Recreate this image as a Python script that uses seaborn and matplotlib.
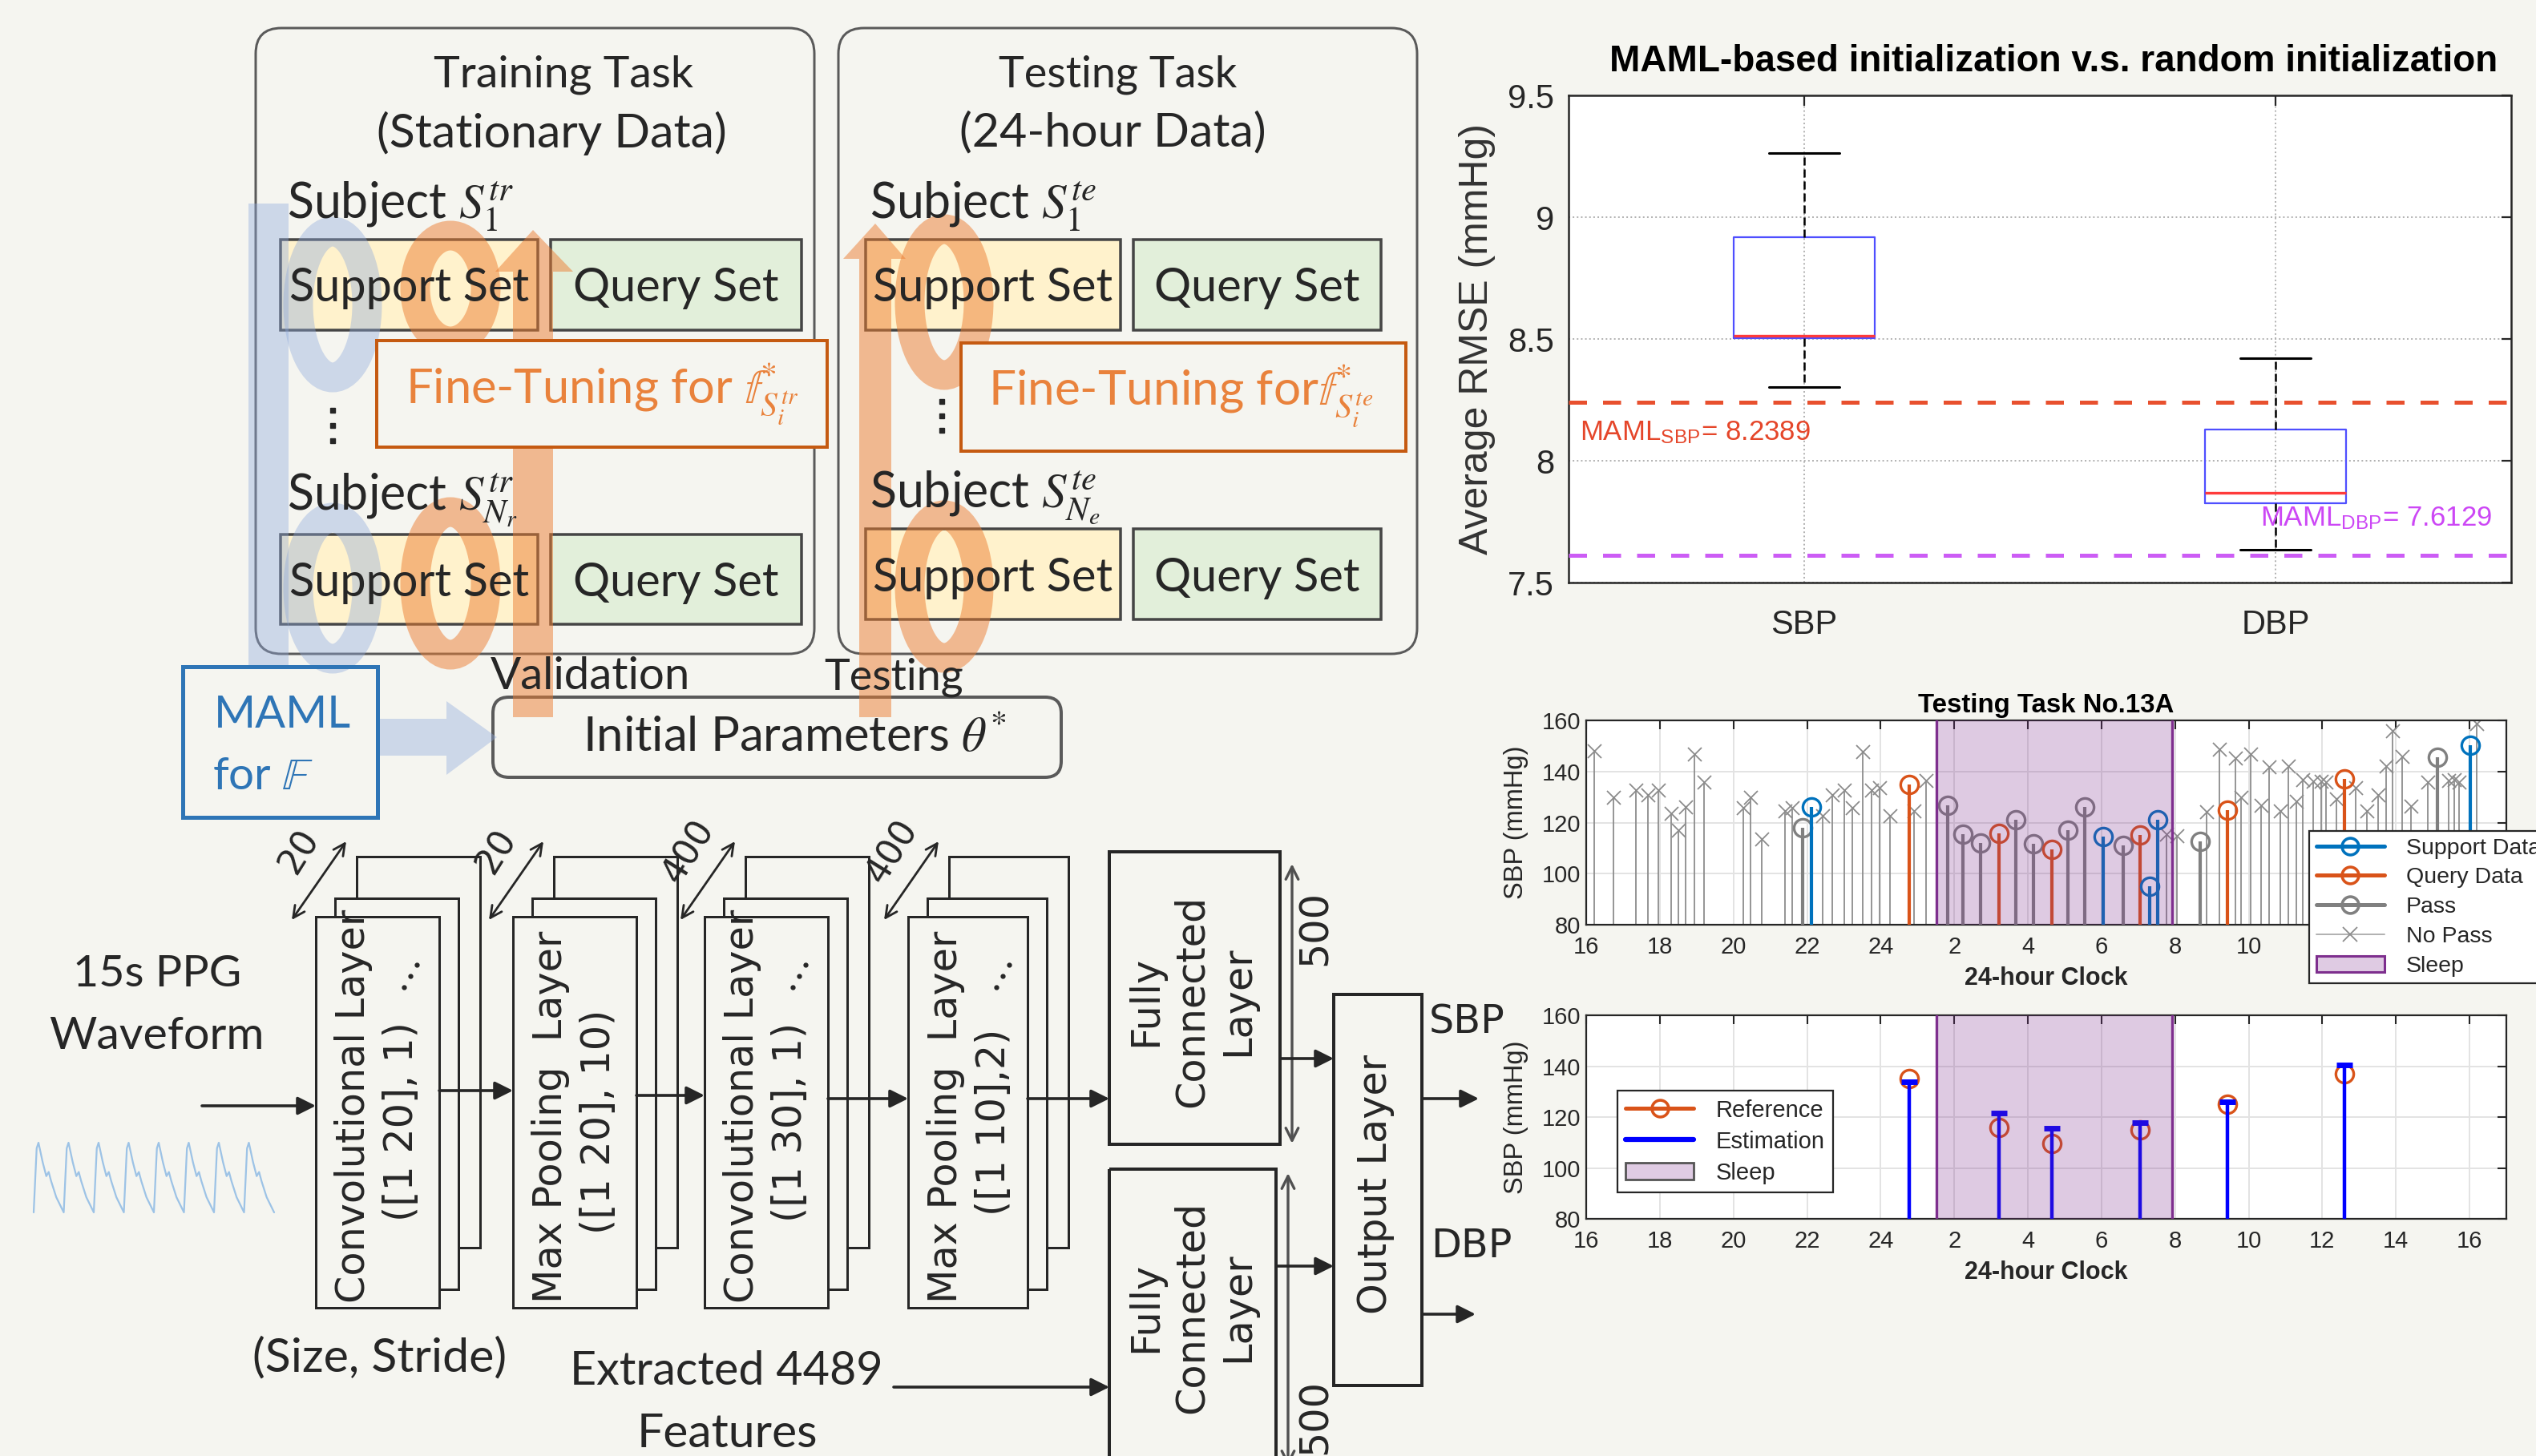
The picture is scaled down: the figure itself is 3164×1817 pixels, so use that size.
import numpy as np
import matplotlib
matplotlib.use("Agg")
import matplotlib.pyplot as plt
import seaborn as sns
from matplotlib.patches import Rectangle, FancyBboxPatch, Ellipse, Polygon, Patch
from matplotlib.lines import Line2D
from matplotlib.legend_handler import HandlerLine2D
from matplotlib.textpath import TextPath
from matplotlib.font_manager import FontProperties

# ----------------------------------------------------------------- data
# RMSE summary of the random-initialisation runs (mmHg)
box_groups = ["SBP", "DBP"]
box_whislo = [8.304, 7.636]
box_q1 = [8.502, 7.827]
box_med = [8.514, 7.867]
box_q3 = [8.918, 8.127]
box_whishi = [9.262, 8.421]
maml_sbp = 8.2389
maml_dbp = 7.6129
rmse_ticks = [7.5, 8.0, 8.5, 9.0, 9.5]
rmse_tick_labels = ["7.5", "8", "8.5", "9", "9.5"]

# Testing task No.13A (time in hours from midnight of the first day)
support_t = [22.11, 30.04, 31.31, 31.52, 40.01]
support_v = [126.0, 114.6, 95.1, 121.0, 150.2]
query_t = [24.78, 27.21, 28.65, 31.04, 33.43, 36.60]
query_v = [135.0, 115.8, 109.5, 115.0, 124.9, 137.0]
estimate_v = [133.8, 121.6, 115.6, 117.9, 126.1, 140.6]
pass_t = [21.87, 25.83, 26.23, 26.71, 27.68, 28.16, 29.09, 29.55, 30.59, 32.68, 39.13]
pass_v = [117.9, 126.8, 115.6, 112.1, 121.0, 111.8, 117.1, 126.0, 111.1, 112.5, 145.7]
nopass_t = [16.22, 16.73, 17.35, 17.68, 17.96, 18.30, 18.51, 18.71, 18.94, 19.20,
            20.27, 20.47, 20.76, 21.39, 21.60, 22.42, 22.69, 23.01, 23.22, 23.51,
            23.76, 23.96, 24.26, 24.90, 25.24, 31.77, 32.05, 32.86, 33.20, 33.64,
            33.80, 34.05, 34.34, 34.56, 34.85, 35.07, 35.29, 35.47, 35.76, 35.96,
            36.09, 36.38, 36.91, 37.20, 37.52, 37.74, 37.91, 38.16, 38.41, 38.87,
            39.43, 39.58, 39.72, 40.20]
nopass_v = [148.1, 129.9, 132.8, 130.7, 132.8, 123.7, 116.9, 126.0, 146.9, 135.7,
            125.8, 129.9, 113.7, 124.7, 125.8, 122.6, 130.7, 132.8, 125.8, 147.7,
            132.8, 133.6, 122.6, 124.7, 136.5, 115.3, 114.8, 124.2, 148.8, 145.1,
            129.9, 146.7, 126.8, 141.8, 124.7, 142.0, 128.2, 136.8, 136.2, 136.2,
            135.9, 129.4, 133.6, 124.7, 130.7, 142.0, 155.9, 146.0, 126.5, 135.7,
            136.5, 136.8, 135.7, 158.7]
sleep_start, sleep_end = 25.52, 31.92
clock_ticks = [16, 18, 20, 22, 24, 26, 28, 30, 32, 34, 36, 38, 40]
clock_labels = ["16", "18", "20", "22", "24", "2", "4", "6", "8", "10", "12", "14", "16"]
# the legend of the upper panel sits over its last three clock labels
clock_labels_top = ["16", "18", "20", "22", "24", "2", "4", "6", "8", "10", "", "", ""]
sbp_ticks = [80, 100, 120, 140, 160]

# CNN stages
layer_titles = ["Convolutional Layer", "Max Pooling  Layer", "Convolutional Layer", "Max Pooling  Layer"]
layer_params = ["([1 20], 1)", "([1 20], 10)", "([1 30], 1)", "([1 10],2)"]
layer_sizes = ["20", "20", "400", "400"]

# one beat of the PPG sketch (normalised), repeated along the trace
ppg_cycle_x = [0.00, 0.10, 0.16, 0.30, 0.42, 0.50, 0.58, 0.75, 1.00]
ppg_cycle_y = [0.00, 0.92, 1.00, 0.72, 0.52, 0.58, 0.45, 0.22, 0.00]
ppg_beats = 8

# ----------------------------------------------------------------- style
sns.set_theme(style="white")
plt.rcParams["font.family"] = ["Liberation Sans", "DejaVu Sans"]
plt.rcParams["mathtext.fontset"] = "stix"
plt.rcParams["axes.unicode_minus"] = False

W, H = 3164, 1817
PX = 0.72                      # points per pixel at dpi 100
BG = "#F5F5F0"
INK = "#262626"
C_SUP = "#0072BD"
C_QRY = "#D95319"
C_PASS = "#808080"
C_NOP = "#8C8C8C"
C_SLEEP = "#7E2F8E"
SLEEP_FILL = (0.874, 0.797, 0.890)
DIAG = ["Lato", "DejaVu Sans"]
VERD = ["DejaVu Sans"]

fig = plt.figure(figsize=(W / 100, H / 100), dpi=100)
fig.patch.set_facecolor(BG)


def ax_rect(x0, y0, x1, y1):
    return [x0 / W, 1 - y1 / H, (x1 - x0) / W, (y1 - y0) / H]


def fit(s, width_px, family=DIAG, weight="normal"):
    fp = FontProperties(family=family, weight=weight, size=100)
    ext = TextPath((0, 0), s, size=100, prop=fp).get_extents()
    return 100 * width_px * PX / ext.width


# ================================================================= diagram
dax = fig.add_axes([0, 0, 1, 1])
dax.set_xlim(0, W)
dax.set_ylim(H, 0)
dax.axis("off")


def rect(x0, y0, x1, y1, ec=INK, fc="none", lw=3, z=2, r=0):
    if r:
        p = FancyBboxPatch((x0, y0), x1 - x0, y1 - y0,
                           boxstyle=f"round,pad=0,rounding_size={r}",
                           ec=ec, fc=fc, lw=lw * PX, zorder=z)
    else:
        p = Rectangle((x0, y0), x1 - x0, y1 - y0, ec=ec, fc=fc, lw=lw * PX, zorder=z)
    dax.add_patch(p)


def put(x, y, s, width=None, size=None, family=DIAG, ha="center", va="center",
        color=INK, rot=0, weight="normal", z=6, **kw):
    if size is None:
        size = fit(s, width, family, weight)
    dax.text(x, y, s, fontsize=size, family=family, ha=ha, va=va, color=color,
             rotation=rot, rotation_mode="anchor", fontweight=weight, zorder=z, **kw)
    return size


def arrow(x0, y0, x1, y1, style="-|>", lw=2.6, color=INK, ms=34, z=5):
    dax.annotate("", xy=(x1, y1), xytext=(x0, y0),
                 arrowprops=dict(arrowstyle=style, lw=lw * PX * 1.4, color=color,
                                 mutation_scale=ms, shrinkA=0, shrinkB=0),
                 zorder=z)


# task panels
rect(319, 35, 1016, 816, ec="#5A5A5A", lw=3, r=32, z=1)
rect(1046, 35, 1768, 816, ec="#5A5A5A", lw=3, r=32, z=1)
put(703, 93, "Training Task", width=323)
put(688, 166, "(Stationary Data)", width=431)
put(1395, 93, "Testing Task", width=297)
put(1388, 166, "(24-hour Data)", width=378)

SUP_FC, QRY_FC, SET_EC = "#FFF2CC", "#E2EFDA", "#454545"
set_rows = [
    (350, 671, 687, 1000, 299, 412),
    (350, 671, 687, 1000, 667, 779),
    (1080, 1398, 1414, 1723, 299, 412),
    (1080, 1398, 1414, 1723, 660, 773),
]
sz_sup = fit("Support Set", 297)
for sx0, sx1, qx0, qx1, y0, y1 in set_rows:
    rect(sx0, y0, sx1, y1, ec=SET_EC, fc=SUP_FC, lw=3.5, z=2)
    rect(qx0, y0, qx1, y1, ec=SET_EC, fc=QRY_FC, lw=3.5, z=2)
    put((sx0 + sx1) / 2, (y0 + y1) / 2 + 21, "Support Set", size=sz_sup, va="baseline")
    put((qx0 + qx1) / 2, (y0 + y1) / 2 + 21, "Query Set", size=sz_sup, va="baseline")

sz_subj = fit(r"Subject $S_1^{tr}$", 279)
put(358, 273, r"Subject $S_1^{tr}$", size=sz_subj, ha="left", va="baseline")
put(358, 636, r"Subject $S_{N_r}^{tr}$", size=sz_subj, ha="left", va="baseline")
put(1085, 273, r"Subject $S_1^{te}$", size=sz_subj, ha="left", va="baseline")
put(1085, 633, r"Subject $S_{N_e}^{te}$", size=sz_subj, ha="left", va="baseline")

# translucent loop arrows
ORG, BLU = "#ED7D31", "#8FAADC"
dax.add_patch(Polygon([(310, 832), (310, 254), (360, 254), (360, 832)],
                      closed=True, fc=BLU, ec="none", alpha=0.40, zorder=3))
for cx, cy, rx, ry in [(415, 380, 43, 91), (415, 734, 43, 88)]:
    dax.add_patch(Ellipse((cx, cy), 2 * rx, 2 * ry, fill=False, ec=BLU,
                          lw=37 * PX, alpha=0.40, zorder=3))
for x0, x1, hx0, hx1, hy, ax_, ay in [(640, 690, 618, 715, 339, 665, 287),
                                      (1072, 1112, 1052, 1130, 323, 1092, 279)]:
    dax.add_patch(Polygon([(x0, 895), (x0, hy), (hx0, hy), (ax_, ay), (hx1, hy),
                           (x1, hy), (x1, 895)], closed=True, fc=ORG, ec="none",
                          alpha=0.50, zorder=3))
for cx, cy, rx, ry in [(562, 360, 44, 66), (562, 728, 44, 89),
                       (1178, 377, 43, 91), (1178, 732, 43, 89)]:
    dax.add_patch(Ellipse((cx, cy), 2 * rx, 2 * ry, fill=False, ec=ORG,
                          lw=37 * PX, alpha=0.50, zorder=3))

# fine-tuning blocks
rect(470, 425, 1032, 558, ec="#C55A11", fc=BG, lw=4, z=4)
rect(1199, 428, 1754, 563, ec="#C55A11", fc=BG, lw=4, z=4)
put(506, 503, r"Fine-Tuning for $\mathbb{f}^{*}_{S_i^{tr}}$", width=483,
    ha="left", va="baseline", color="#E9823C")
put(1233, 505, r"Fine-Tuning for$\mathbb{f}^{*}_{S_i^{te}}$", width=473,
    ha="left", va="baseline", color="#E9823C")
dax.plot([415, 415, 415], [512, 531, 550], ls="none", marker="s", ms=4.5, color=INK, zorder=6)
dax.plot([1175, 1175, 1175], [501, 519, 537], ls="none", marker="s", ms=4.5, color=INK, zorder=6)

# MAML block and initial parameters
rect(228, 832, 471, 1020, ec="#2E75B6", lw=5, z=4)
put(267, 908, "MAML", width=165, ha="left", va="baseline", color="#2E75B6")
put(265, 985, r"for $\mathbb{F}$", width=123, ha="left", va="baseline", color="#2E75B6")
dax.add_patch(Polygon([(471, 897), (557, 897), (557, 875), (620, 920), (557, 967),
                       (557, 943), (471, 943)], closed=True, fc=BLU, ec="none",
                      alpha=0.40, zorder=3))
rect(615, 870, 1324, 970, ec="#5A5A5A", lw=4, r=20, z=2)
put(727, 937, r"Initial Parameters $\theta^{*}$", width=521, ha="left", va="baseline")
put(612, 860, "Validation", width=246, ha="left", va="baseline")
put(1028, 860, "Testing", width=172, ha="left", va="baseline")

# PPG input
put(196, 1231, "15s PPG", width=202, va="baseline")
put(195, 1309, "Waveform", width=264, va="baseline")
arrow(252, 1380, 394, 1380)
trace_x, trace_y = [], []
beat_w = (342 - 42) / ppg_beats
for b in range(ppg_beats):
    for cxv, cyv in zip(ppg_cycle_x, ppg_cycle_y):
        trace_x.append(42 + (b + cxv) * beat_w)
        trace_y.append(1513 - cyv * (1513 - 1426))
dax.plot(trace_x, trace_y, color="#9DC3E6", lw=1.6 * PX * 1.4, zorder=5)

# convolution / pooling stacks
layer_left = [394, 640, 879, 1133]
layer_w = [154, 154, 154, 149]
ftop, fbot = 1144, 1632
sz_layer = fit("Convolutional Layer", 488, VERD)
for i, (L, lw_) in enumerate(zip(layer_left, layer_w)):
    rect(L + 51, ftop - 75, L + 51 + lw_, fbot - 75, fc=BG, lw=3, z=2)
    rect(L + 24, ftop - 23, L + 24 + lw_, fbot - 23, fc=BG, lw=3, z=2.1)
    rect(L, ftop, L + lw_, fbot, fc=BG, lw=3, z=2.2)
    put(L + 47, fbot - 6, layer_titles[i], size=sz_layer, family=VERD, ha="left", rot=90)
    put(L + 107, 1400, layer_params[i], size=sz_layer, family=VERD, rot=90)
    arrow(L - 30, 1148, L + 38, 1050, style="<->", lw=2.0, ms=26)
    put(L - 20, 1062, layer_sizes[i], size=sz_layer * 0.9, family=VERD, rot=58)
for L in (layer_left[0], layer_left[2], layer_left[3]):
    dax.plot([L + 110, L + 118, L + 126], [1232, 1218, 1204], ls="none", marker="o",
             ms=3.5, color=INK, zorder=6)
arrow(548, 1361, 640, 1361)
arrow(794, 1367, 879, 1367)
arrow(1033, 1371, 1133, 1371)
arrow(1282, 1371, 1384, 1371)

# fully connected and output blocks
rect(1384, 1063, 1597, 1428, lw=4, z=2)
rect(1384, 1459, 1592, 1830, lw=4, z=2)
rect(1664, 1241, 1774, 1729, lw=4, z=2)
put(1487, 1249, "Fully\nConnected\nLayer", size=sz_layer, family=VERD, rot=90,
    linespacing=1.25, multialignment="center")
put(1487, 1631, "Fully\nConnected\nLayer", size=sz_layer, family=VERD, rot=90,
    linespacing=1.25, multialignment="center")
put(1716, 1478, "Output Layer", size=sz_layer, family=VERD, rot=90)
arrow(1612, 1427, 1612, 1078, style="<->", lw=2.4, color="#505050", ms=28)
arrow(1607, 1830, 1607, 1464, style="<->", lw=2.4, color="#505050", ms=28)
put(1641, 1158, "500", size=sz_layer, family=VERD, rot=90)
put(1641, 1768, "500", size=sz_layer, family=VERD, rot=90)
arrow(1597, 1321, 1664, 1321)
arrow(1592, 1580, 1664, 1580)
arrow(1774, 1371, 1845, 1371)
arrow(1774, 1640, 1841, 1640)
put(1830, 1276, "SBP", size=sz_layer, family=VERD)
put(1836, 1555, "DBP", size=sz_layer, family=VERD)
put(474, 1695, "(Size, Stride)", width=312)
put(906, 1711, "Extracted 4489", width=382)
put(907, 1789, "Features", width=218)
arrow(1115, 1731, 1384, 1731)

# ================================================================= RMSE boxes
bax = fig.add_axes(ax_rect(1957, 119, 3133, 727))
bax.set_facecolor("white")
stats = [dict(label=g, whislo=lo, q1=a, med=m, q3=b, whishi=hi)
         for g, lo, a, m, b, hi in zip(box_groups, box_whislo, box_q1, box_med, box_q3, box_whishi)]
bax.bxp(stats, positions=[1, 2], widths=0.3, showfliers=False,
        boxprops=dict(color="#4F4FFF", lw=1.6),
        medianprops=dict(color="#FF3B3B", lw=2.4),
        whiskerprops=dict(color="black", lw=1.8, ls=(0, (4, 2))),
        capprops=dict(color="black", lw=2.2))
bax.axhline(maml_sbp, color="#E8502E", lw=3.6, ls=(0, (4.5, 4)), zorder=4)
bax.axhline(maml_dbp, color="#CC5CF5", lw=3.6, ls=(0, (4.5, 4)), zorder=4)
bax.text(0.524, 8.086, r"MAML$_{\mathregular{SBP}}$= 8.2389", color="#E5462A",
         fontsize=25, ha="left", va="baseline")
bax.text(1.967, 7.734, r"MAML$_{\mathregular{DBP}}$= 7.6129", color="#CC47F5",
         fontsize=25, ha="left", va="baseline")
bax.set_xlim(0.5, 2.5)
bax.set_ylim(7.5, 9.5)
bax.set_xticks([1, 2])
bax.set_xticklabels(box_groups)
bax.set_yticks(rmse_ticks)
bax.set_yticklabels(rmse_tick_labels)
bax.grid(True, ls=":", lw=1.4, color="#B0B0B0")
bax.set_axisbelow(True)
bax.tick_params(direction="in", length=9, width=1.6, top=True, right=True,
                labelsize=30, colors=INK)
bax.tick_params(axis="x", pad=24)
bax.tick_params(axis="y", pad=13)
for sp in bax.spines.values():
    sp.set_color(INK)
    sp.set_linewidth(1.8)
bax.set_ylabel("Average RMSE (mmHg)", fontsize=36, color="#333333")
bax.yaxis.set_label_coords(-0.077, 0.5)
fig.text(2562 / W, 1 - 77 / H, "MAML-based initialization v.s. random initialization",
         fontsize=33, fontweight="bold", ha="center", va="center", color="black")


# ================================================================= stem charts
class EndMarker(HandlerLine2D):
    def get_xdata(self, legend, xdescent, ydescent, width, height, fontsize):
        xd = np.array([-xdescent, -xdescent + width])
        xm = np.array([-xdescent + width * 0.88])
        return xd, xm


def clock_axes(ax, labels):
    ax.set_facecolor("white")
    ax.set_xlim(16, 41)
    ax.set_ylim(80, 160)
    ax.set_xticks(clock_ticks)
    ax.set_xticklabels(labels)
    ax.set_yticks(sbp_ticks)
    ax.grid(True, color="#E3E3E3", lw=1.4)
    ax.set_axisbelow(True)
    ax.tick_params(direction="in", length=8, width=1.5, top=True, right=True,
                   labelsize=21, colors=INK)
    ax.tick_params(axis="x", pad=10)
    ax.tick_params(axis="y", pad=5)
    for sp in ax.spines.values():
        sp.set_color(INK)
        sp.set_linewidth(1.6)
    ax.set_ylabel("SBP (mmHg)", fontsize=23.5, color=INK)
    ax.yaxis.set_label_coords(-0.063, 0.5)
    ax.set_xlabel("24-hour Clock", fontsize=22, fontweight="bold", color=INK)
    ax.axvspan(sleep_start, sleep_end, facecolor=C_SLEEP, alpha=0.25, lw=0, zorder=6)
    for xv in (sleep_start, sleep_end):
        ax.axvline(xv, color=C_SLEEP, lw=2.4, zorder=6)


STEM_MS, STEM_MEW, STEM_LW = 16, 2.4, 3.0

# ---- top: data selection
sax = fig.add_axes(ax_rect(1979, 899, 3127, 1154))
clock_axes(sax, clock_labels_top)
sax.xaxis.set_label_coords(0.5, -0.205)
sax.vlines(nopass_t, 80, nopass_v, color=C_NOP, lw=1.3, zorder=2)
sns.scatterplot(x=nopass_t, y=nopass_v, marker="x", color=C_NOP, s=150,
                linewidth=1.3, ax=sax, zorder=2, legend=False)
for t, v, c in [(pass_t, pass_v, C_PASS), (query_t, query_v, C_QRY), (support_t, support_v, C_SUP)]:
    sax.vlines(t, 80, v, color=c, lw=STEM_LW, zorder=3)
    sax.plot(t, v, ls="none", marker="o", ms=STEM_MS, mfc="none", mec=c, mew=STEM_MEW, zorder=3)
sax.set_title("Testing Task No.13A", fontsize=23.8, fontweight="bold", pad=7, color="black")

h_top = [
    Line2D([], [], color=C_SUP, lw=3.6, marker="o", ms=15, mfc="none", mec=C_SUP, mew=2.6),
    Line2D([], [], color=C_QRY, lw=3.6, marker="o", ms=15, mfc="none", mec=C_QRY, mew=2.6),
    Line2D([], [], color=C_PASS, lw=3.6, marker="o", ms=15, mfc="none", mec=C_PASS, mew=2.6),
    Line2D([], [], color="#B0B0B0", lw=1.4, marker="x", ms=13, mec=C_NOP, mew=1.3),
    Patch(facecolor=SLEEP_FILL, edgecolor=C_SLEEP, lw=2.2),
]
leg = sax.legend(h_top, ["Support Data", "Query Data", "Pass", "No Pass", "Sleep"],
                 loc="upper left", bbox_to_anchor=(2881 / W, 1 - 1037 / H),
                 bbox_transform=fig.transFigure, fontsize=20.5, frameon=True,
                 fancybox=False, framealpha=1, edgecolor=INK, borderpad=0.3,
                 labelspacing=0.38, handlelength=3.0, handletextpad=0.95,
                 borderaxespad=0, handler_map={Line2D: EndMarker()})
leg.get_frame().set_linewidth(1.6)
leg.set_zorder(20)

# ---- bottom: estimation against reference
eax = fig.add_axes(ax_rect(1979, 1267, 3127, 1521))
clock_axes(eax, clock_labels)
eax.xaxis.set_label_coords(0.5, -0.205)
eax.plot(query_t, query_v, ls="none", marker="o", ms=STEM_MS, mfc="none", mec=C_QRY,
         mew=STEM_MEW, zorder=3)
eax.vlines(query_t, 80, estimate_v, color="#0000FF", lw=3.2, zorder=4)
eax.plot(query_t, estimate_v, ls="none", marker="_", ms=14, mew=5, color="#0000FF", zorder=4)
h_bot = [
    Line2D([], [], color=C_QRY, lw=3.6, marker="o", ms=15, mfc="none", mec=C_QRY, mew=2.6),
    Line2D([], [], color="#0000FF", lw=4.5),
    Patch(facecolor=SLEEP_FILL, edgecolor="#555555", lw=2.0),
]
leg2 = eax.legend(h_bot, ["Reference", "Estimation", "Sleep"], loc="upper left",
                  bbox_to_anchor=(2018 / W, 1 - 1361 / H), bbox_transform=fig.transFigure,
                  fontsize=21, frameon=True, fancybox=False, framealpha=1,
                  edgecolor=INK, borderpad=0.36, labelspacing=0.38, handlelength=2.9,
                  handletextpad=0.93, borderaxespad=0, handler_map={Line2D: EndMarker()})
leg2.get_frame().set_linewidth(1.6)
leg2.set_zorder(20)

fig.savefig("out.png", dpi=100, facecolor=BG)
